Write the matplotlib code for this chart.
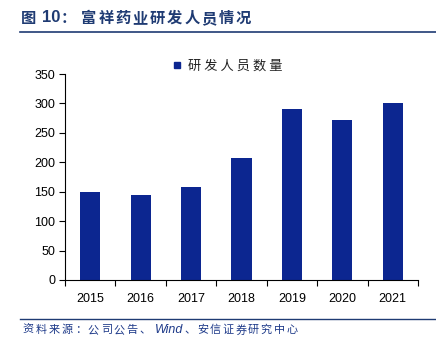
import matplotlib
matplotlib.use("Agg")
import matplotlib.pyplot as plt
from matplotlib.lines import Line2D

plt.rcParams['font.family'] = ['Liberation Sans', 'Noto Sans CJK SC', 'DejaVu Sans']

# data
years = ['2015', '2016', '2017', '2018', '2019', '2020', '2021']
staff = [149, 145, 158, 207, 290, 272, 301]

bar_color = '#0C2690'
title_color = '#1F3B73'
source_color = '#1F3B8A'

fig = plt.figure(figsize=(4.36, 3.54), dpi=100)
W, H = 436, 354


def px(x, y):
    # reference pixel -> figure fraction
    return x / W, 1 - y / H


def spaced(x0, y, text, pitch, **kw):
    # draw CJK text with extra letter spacing, one glyph at a time
    for i, ch in enumerate(text):
        fig.text(*px(x0 + i * pitch, y), ch, va='center', ha='left', **kw)


# axes placed in pixel coords of the reference
ax = fig.add_axes([65 / W, 1 - 280 / H, (418 - 65) / W, (280 - 74) / H])
x = range(len(years))
ax.bar(x, staff, width=0.4, color=bar_color, zorder=2)

ax.set_xlim(-0.5, len(years) - 0.5)
ax.set_ylim(0, 350)
ax.set_yticks(range(0, 351, 50))
ax.set_xticks(x)
ax.set_xticklabels(years)
ax.set_xticks([i - 0.5 for i in range(len(years) + 1)], minor=True)
ax.tick_params(axis='x', which='major', length=0, pad=9, labelsize=9)
ax.tick_params(axis='x', which='minor', length=4, direction='out', width=0.8)
ax.tick_params(axis='y', length=4, direction='out', width=0.8, labelsize=9, pad=3)
for s in ['top', 'right']:
    ax.spines[s].set_visible(False)
for s in ['left', 'bottom']:
    ax.spines[s].set_linewidth(0.8)
    ax.spines[s].set_color('black')

# legend
handle = Line2D([], [], marker='s', linestyle='none', color=bar_color, markersize=5)
fig.legend([handle], ['研 发 人 员 数 量'], loc='center left', bbox_to_anchor=px(172, 66),
           frameon=False, handletextpad=0.4, handlelength=0.8, borderpad=0, borderaxespad=0,
           prop={'family': ['Noto Sans CJK SC'], 'size': 9.5}, labelcolor='#222222')

# title and rules
tkw = dict(fontsize=11, fontweight='bold', color=title_color)
fig.text(*px(21, 18), '图', va='center', ha='left', family=['Noto Sans CJK SC'], **tkw)
fig.text(*px(42, 18), '10', va='center', ha='left', family=['Liberation Sans'], fontsize=12,
         fontweight='bold', color=title_color)
fig.text(*px(61, 18), '：', va='center', ha='left', family=['Noto Sans CJK SC'], **tkw)
spaced(81, 18, '富祥药业研发人员情况', 17.2, family=['Noto Sans CJK SC'], **tkw)
fig.add_artist(Line2D([20 / W, 1], [1 - 32 / H, 1 - 32 / H], color=title_color, lw=1.2))
fig.add_artist(Line2D([20 / W, 1], [1 - 319 / H, 1 - 319 / H], color=title_color, lw=1.0))

skw = dict(fontsize=8, color=source_color, family=['Noto Sans CJK SC'])
spaced(22.7, 330, '资料来源：公司公告、', 13, **skw)
fig.text(*px(155, 330), 'Wind', va='center', ha='left', fontsize=9, style='italic',
         color=source_color, family=['Liberation Sans'])
spaced(184, 330, '、安信证券研究中心', 12.8, **skw)

fig.savefig('out.png', dpi=100)
